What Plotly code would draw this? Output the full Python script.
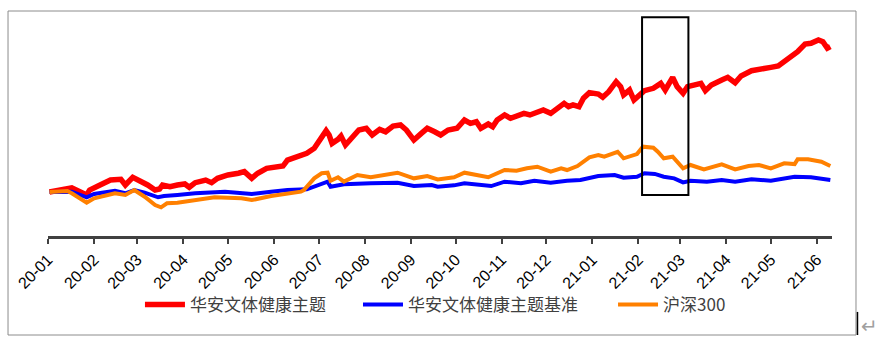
import plotly.graph_objects as go

# ---- data (cumulative return, %) ----
red_dates = ["2020-01-02","2020-01-14","2020-01-17","2020-01-27","2020-01-29","2020-02-05","2020-02-12","2020-02-19",
"2020-02-22","2020-02-27","2020-03-04","2020-03-08","2020-03-13","2020-03-16","2020-03-18","2020-03-23","2020-03-28",
"2020-04-02","2020-04-05","2020-04-09","2020-04-16","2020-04-20","2020-04-24","2020-05-01","2020-05-08","2020-05-12",
"2020-05-17","2020-05-21","2020-05-27","2020-06-02","2020-06-07","2020-06-10","2020-06-17","2020-06-23","2020-06-28",
"2020-07-03","2020-07-06","2020-07-08","2020-07-10","2020-07-14","2020-07-16","2020-07-19","2020-07-24","2020-07-28",
"2020-08-02","2020-08-06","2020-08-11","2020-08-15","2020-08-20","2020-08-25","2020-08-29","2020-09-03","2020-09-08",
"2020-09-12","2020-09-17","2020-09-21","2020-09-26","2020-10-02","2020-10-07","2020-10-11","2020-10-15","2020-10-18",
"2020-10-23","2020-10-26","2020-10-29","2020-11-03","2020-11-07","2020-11-11","2020-11-16","2020-11-20","2020-11-25",
"2020-11-29","2020-12-04","2020-12-08","2020-12-13","2020-12-16","2020-12-19","2020-12-23","2020-12-26","2020-12-30",
"2021-01-05","2021-01-08","2021-01-12","2021-01-17","2021-01-20","2021-01-22","2021-01-26","2021-01-29","2021-02-02",
"2021-02-05","2021-02-11","2021-02-16","2021-02-19","2021-02-24","2021-02-27","2021-03-03","2021-03-06","2021-03-13",
"2021-03-15","2021-03-18","2021-03-22","2021-03-29","2021-04-02","2021-04-07","2021-04-11","2021-04-18","2021-04-25",
"2021-05-01","2021-05-06","2021-05-10","2021-05-15","2021-05-19","2021-05-24","2021-05-28","2021-06-02","2021-06-05",
"2021-06-08","2021-06-10"]
red_vals = [0,3.7,3.7,-2.6,1.7,6.1,10.4,11.0,
6.1,12.8,9.0,6.1,1.7,2.6,6.1,4.6,6.1,
7.0,4.1,8.1,10.4,8.1,11.9,14.8,16.3,17.7,
11.9,16.3,20.6,22.0,22.6,27.8,30.7,33.7,38.0,
48.1,53.3,49.6,42.3,45.8,48.7,40.9,48.1,53.9,
55.4,49.6,54.5,52.4,57.4,58.3,53.9,45.2,51.0,
55.4,52.4,49.6,53.9,55.4,62.6,59.7,61.1,55.4,
59.1,56.8,62.6,67.0,64.1,65.5,68.4,67.0,69.8,
71.3,68.4,72.8,77.1,74.2,75.7,74.2,81.5,86.4,
85.2,82.4,87.2,95.9,91.6,84.4,88.7,80.0,84.4,
88.1,90.2,94.5,88.7,99.7,91.6,85.8,91.6,93.0,
94.5,88.1,93.0,97.4,99.7,95.0,100.9,105.5,107.6,
108.4,109.6,113.3,117.1,122.0,128.7,129.3,132.2,130.7,
125.0,126.4]

blue_dates = ["2020-01-02","2020-01-12","2020-01-17","2020-01-27","2020-02-01","2020-02-15","2020-02-22","2020-02-28",
"2020-03-06","2020-03-15","2020-03-19","2020-03-28","2020-04-09","2020-04-29","2020-05-12","2020-05-17","2020-05-30",
"2020-06-10","2020-06-23","2020-06-30","2020-07-07","2020-07-09","2020-07-18","2020-08-05","2020-08-23","2020-09-03",
"2020-09-15","2020-09-19","2020-09-30","2020-10-07","2020-10-18","2020-10-25","2020-11-03","2020-11-14","2020-11-23",
"2020-12-04","2020-12-15","2020-12-24","2021-01-05","2021-01-16","2021-01-22","2021-01-31","2021-02-05","2021-02-12",
"2021-02-18","2021-02-25","2021-03-03","2021-03-08","2021-03-19","2021-03-29","2021-04-07","2021-04-18","2021-05-01",
"2021-05-17","2021-05-28","2021-06-10"]
blue_vals = [0,0.3,0.3,-4.6,-1.7,1.1,-1.1,1.7,
-0.6,-4.6,-3.5,-2.6,-1.1,0.3,-0.6,-1.7,0.3,
1.7,2.3,6.1,9.0,4.6,6.7,7.6,8.1,5.2,
6.1,4.6,5.8,7.6,6.1,5.2,9.0,7.6,9.8,
8.1,9.8,10.4,13.9,14.8,12.4,13.3,16.3,15.7,
13.3,11.9,8.4,9.8,9.0,10.4,9.0,11.0,9.8,
13.3,12.8,10.4]

orange_dates = ["2020-01-02","2020-01-14","2020-01-17","2020-01-27","2020-02-01","2020-02-15","2020-02-22","2020-02-28",
"2020-03-06","2020-03-13","2020-03-17","2020-03-21","2020-03-28","2020-04-09","2020-04-22","2020-05-10","2020-05-17",
"2020-05-30","2020-06-10","2020-06-19","2020-06-21","2020-06-28","2020-07-03","2020-07-07","2020-07-09","2020-07-14",
"2020-07-18","2020-07-27","2020-08-05","2020-08-14","2020-08-23","2020-09-03","2020-09-12","2020-09-19","2020-09-30",
"2020-10-07","2020-10-16","2020-10-23","2020-11-03","2020-11-11","2020-11-18","2020-11-25","2020-12-04","2020-12-11",
"2020-12-15","2020-12-22","2020-12-30","2021-01-05","2021-01-09","2021-01-18","2021-01-22","2021-01-31","2021-02-04",
"2021-02-11","2021-02-14","2021-02-18","2021-02-24","2021-03-03","2021-03-08","2021-03-13","2021-03-17","2021-03-29",
"2021-04-07","2021-04-16","2021-04-23","2021-05-01","2021-05-10","2021-05-17","2021-05-19","2021-05-26","2021-06-04",
"2021-06-10"]
orange_vals = [0,0.9,-1.1,-9.3,-5.5,-1.1,-2.6,1.7,
-4.1,-11.3,-13.3,-9.8,-9.3,-7.0,-4.6,-5.5,-7.0,
-3.5,-1.7,0.3,1.7,11.9,16.3,16.8,9.8,12.8,
9.0,14.8,12.8,14.8,16.8,11.9,13.9,11.0,12.8,
16.8,14.8,12.8,19.1,18.5,20.6,22.0,17.7,20.6,
19.1,22.6,30.2,32.2,30.7,35.0,29.3,33.0,39.4,
38.5,35.0,29.3,30.7,20.6,23.5,21.5,19.7,24.1,
19.7,22.6,23.5,20.6,25.0,24.3,28.4,28.4,26.3,
22.6]

series_names = ["华安文体健康主题", "华安文体健康主题基准", "沪深300"]
highlight_start, highlight_end = "2021-02-03 10:00", "2021-03-06 14:00"
highlight_low, highlight_high = -2.6, 151.9

fig = go.Figure()
fig.add_trace(go.Scatter(x=red_dates, y=red_vals, name=series_names[0], mode="lines",
                         line=dict(color="#FF0000", width=5.5), legend="legend"))
fig.add_trace(go.Scatter(x=blue_dates, y=blue_vals, name=series_names[1], mode="lines",
                         line=dict(color="#0000FF", width=4), legend="legend2"))
fig.add_trace(go.Scatter(x=orange_dates, y=orange_vals, name=series_names[2], mode="lines",
                         line=dict(color="#FF8000", width=4), legend="legend3"))

# highlight rectangle
fig.add_shape(type="rect", xref="x", yref="y", x0=highlight_start, x1=highlight_end,
              y0=highlight_low, y1=highlight_high, line=dict(color="#000000", width=2),
              fillcolor="rgba(0,0,0,0)", layer="above")
# outer border
fig.add_shape(type="rect", xref="paper", yref="paper", x0=-0.051, x1=1.0306, y0=-0.446, y1=1.0135,
              line=dict(color="#8C8C8C", width=1), fillcolor="rgba(0,0,0,0)")
# cursor mark
fig.add_shape(type="line", xref="paper", yref="paper", x0=1.0325, x1=1.0325, y0=-0.342, y1=-0.446,
              line=dict(color="#000000", width=1.5))
fig.add_annotation(xref="paper", yref="paper", x=1.035, xanchor="left", y=-0.405, yanchor="middle",
                   text="↵", showarrow=False,
                   font=dict(size=20, color="#A0A0A0", family="DejaVu Sans"))

legend_font = dict(size=17, color="#404040", family="Noto Sans CJK SC")
leg_common = dict(orientation="h", y=-0.311, yanchor="middle", xanchor="left",
                  font=legend_font, itemwidth=40, bgcolor="rgba(0,0,0,0)")

fig.update_layout(
    width=881, height=354,
    margin=dict(l=48, r=49, t=14, b=118),
    paper_bgcolor="white", plot_bgcolor="white",
    showlegend=True,
    legend=dict(x=0.1173, **leg_common),
    legend2=dict(x=0.3954, **leg_common),
    legend3=dict(x=0.7207, **leg_common),
    xaxis=dict(type="date", range=["2020-01-01", "2021-06-11 03:00"],
               tick0="2020-01-01", dtick="M1", tickformat="%y-%m", tickangle=-45,
               showgrid=False, zeroline=False, showline=True, linecolor="#404040", linewidth=3,
               ticks="outside", ticklen=5, tickwidth=2, tickcolor="#404040",
               tickfont=dict(size=16, color="#000000", family="Liberation Sans")),
    yaxis=dict(range=[-38.26, 154.8], visible=False, showgrid=False, zeroline=False),
)

fig.write_html("out.html")
